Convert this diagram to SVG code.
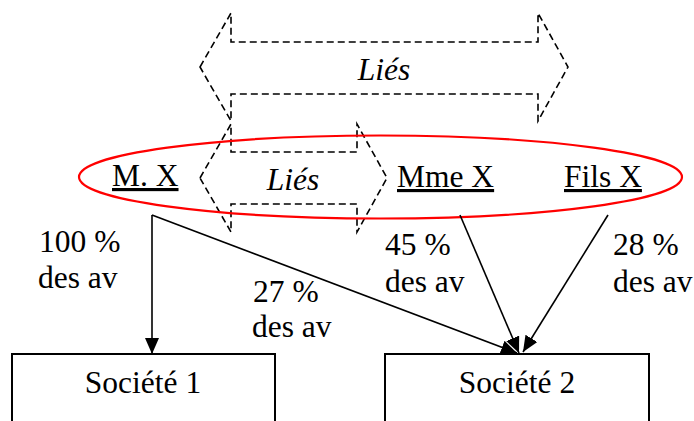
<svg xmlns="http://www.w3.org/2000/svg" width="694" height="421" viewBox="0 0 694 421">
<style>
.t{font-family:'Liberation Serif','Times New Roman',Tinos,'DejaVu Serif',serif;font-size:31.5px;fill:#000}
.u{text-decoration:underline}
.it{font-style:italic}
.dash{fill:none;stroke:#000;stroke-width:1.6;stroke-dasharray:7,4}
.box{fill:#fff;stroke:#000;stroke-width:2}
.conn{fill:none;stroke:#000;stroke-width:1.6}
</style>
<defs>
<marker id="ah" viewBox="0 0 16 14" refX="16" refY="7" markerWidth="16" markerHeight="14" markerUnits="userSpaceOnUse" orient="auto">
<path d="M0,0 L16,7 L0,14 Z" fill="#000"/>
</marker>
</defs>
<rect width="694" height="421" fill="#fff"/>
<g id="lies-big">
<polygon class="dash" points="200,67 231,13 231,42 538,42 538,13 568,67 538,121 538,94 231,94 231,121"/>
<text class="t it" x="384" y="80" text-anchor="middle" font-family="Liberation Serif, serif">Liés</text>
</g>
<g id="lies-small">
<polygon class="dash" points="200,178 231,124 231,152 357,152 357,124 387,178 357,232 357,204 231,204 231,232"/>
<text class="t it" x="293" y="190" text-anchor="middle" font-family="Liberation Serif, serif">Liés</text>
</g>
<g id="groupe">
<ellipse cx="380.5" cy="177" rx="301.5" ry="41.5" fill="none" stroke="#f00" stroke-width="2.2"/>
</g>
<g id="mx"><text class="t u" x="112" y="186" font-family="Liberation Serif, serif">M. X</text></g>
<g id="mmex"><text class="t u" x="397" y="187" font-family="Liberation Serif, serif">Mme X</text></g>
<g id="filsx"><text class="t u" x="564" y="187" font-family="Liberation Serif, serif">Fils X</text></g>
<g id="connectors">
<path class="conn" d="M152,215 L152,354" marker-end="url(#ah)"/>
<path class="conn" d="M152,215 L517,353" marker-end="url(#ah)"/>
<path class="conn" d="M460,215 L519,353" marker-end="url(#ah)"/>
<path class="conn" d="M608,215 L523,352" marker-end="url(#ah)"/>
<g font-family="Liberation Serif, serif">
<text class="t" x="39" y="252">100 %</text>
<text class="t" x="38" y="288">des av</text>
<text class="t" x="253" y="302">27 %</text>
<text class="t" x="252" y="337">des av</text>
<text class="t" x="385" y="255">45 %</text>
<text class="t" x="385" y="292">des av</text>
<text class="t" x="613" y="255">28 %</text>
<text class="t" x="613" y="292">des av</text>
</g>
</g>
<g id="societe1">
<rect class="box" x="12" y="354" width="263" height="80"/>
<text class="t" x="143" y="393" text-anchor="middle" font-family="Liberation Serif, serif">Société 1</text>
</g>
<g id="societe2">
<rect class="box" x="385" y="354" width="264" height="80"/>
<text class="t" x="517" y="393" text-anchor="middle" font-family="Liberation Serif, serif">Société 2</text>
</g>
</svg>
